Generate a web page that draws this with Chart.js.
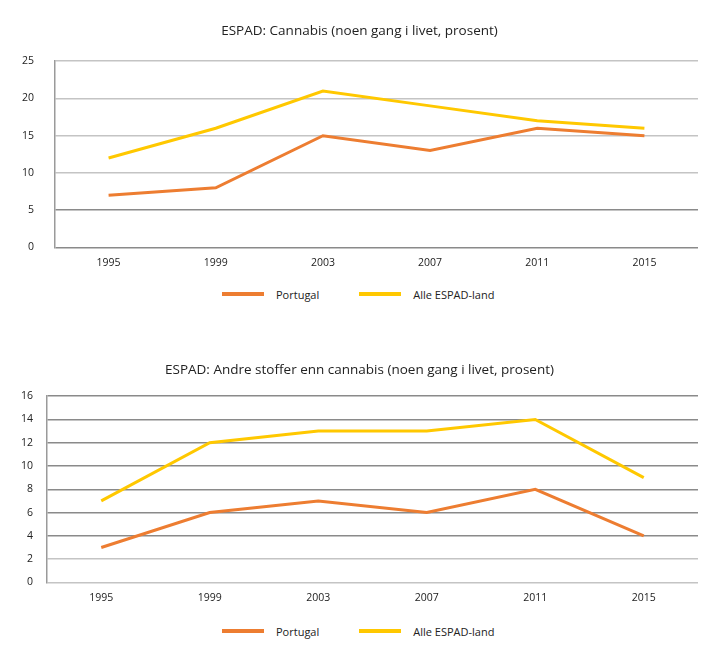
<!DOCTYPE html>
<html>
<head>
<meta charset="utf-8">
<script src="https://cdn.jsdelivr.net/npm/chart.js@4"></script>
<style>
  body { margin: 0; background: #fff; font-family: "Open Sans", sans-serif; }
  .box { position: absolute; left: 0; width: 719px; }
  .legend { position: absolute; left: 222px; display: flex; align-items: center; font-size: 11px; color: #222; height: 16px; }
  .legend .item { display: flex; align-items: center; margin-right: 40px; }
  .legend .swatch { width: 42px; height: 4px; margin-right: 12px; }
</style>
</head>
<body>
<div class="box" style="top:0px;height:284px"><canvas id="cannabisChart"></canvas></div>
<div class="legend" id="cannabisLegend" style="top:286px"></div>
<div class="box" style="top:340px;height:276px"><canvas id="otherChart"></canvas></div>
<div class="legend" id="otherLegend" style="top:623px"></div>
<script>
var years = ['1995', '1999', '2003', '2007', '2011', '2015'];
var seriesNames = ['Portugal', 'Alle ESPAD-land'];
var seriesColors = ['#ED7D31', '#FFC800'];

var cannabisPortugal = [7, 8, 15, 13, 16, 15];
var cannabisAll = [12, 16, 21, 19, 17, 16];
var cannabisTicks = [0, 5, 10, 15, 20, 25];

var otherPortugal = [3, 6, 7, 6, 8, 4];
var otherAll = [7, 12, 13, 13, 14, 9];
var otherTicks = [0, 2, 4, 6, 8, 10, 12, 14, 16];

Chart.defaults.font.family = '"Open Sans", sans-serif';
Chart.defaults.color = '#222';

// left/right padding kept equal so the title centres on the page
function makeChart(canvas, title, portugal, all, ticks, opts) {
    return new Chart(canvas, {
        type: 'line',
        data: {
            labels: years,
            datasets: [portugal, all].map(function(values, i) {
                return {
                    label: seriesNames[i],
                    data: values,
                    borderColor: seriesColors[i],
                    backgroundColor: seriesColors[i],
                    borderWidth: 3,
                    pointRadius: 0,
                    tension: 0
                };
            })
        },
        options: {
            responsive: true,
            maintainAspectRatio: false,
            animation: false,
            layout: { padding: { left: 21, right: 21, top: 0, bottom: opts.bottom } },
            plugins: {
                title: {
                    display: true,
                    text: title,
                    font: { size: 13.5, weight: 'normal' },
                    padding: { top: opts.titleTop, bottom: opts.titleBottom }
                },
                legend: { display: false },
                tooltip: { enabled: false }
            },
            scales: {
                x: {
                    offset: true,
                    grid: { display: false, drawTicks: false },
                    border: { display: false },
                    ticks: { padding: 9, font: { size: 10.5 } }
                },
                y: {
                    min: ticks[0],
                    max: ticks[ticks.length - 1],
                    afterBuildTicks: function(scale) {
                        scale.ticks = ticks.map(function(v) { return { value: v }; });
                    },
                    afterFit: function(scale) { scale.width = opts.axisWidth; },
                    grid: {
                        drawTicks: false,
                        lineWidth: 1.5,
                        color: function(ctx) {
                            var v = ctx.tick ? ctx.tick.value : 0;
                            return opts.isDark(v) ? '#8a8a8a' : '#c4c4c4';
                        }
                    },
                    border: { display: true, color: '#9a9a9a', width: 1.5 },
                    ticks: { padding: opts.tickPad, font: { size: 10.5 } }
                }
            }
        }
    });
}

function buildLegend(el) {
    seriesNames.forEach(function(name, i) {
        var item = document.createElement('div');
        item.className = 'item';
        var swatch = document.createElement('span');
        swatch.className = 'swatch';
        swatch.style.background = seriesColors[i];
        var label = document.createElement('span');
        label.textContent = name;
        item.appendChild(swatch);
        item.appendChild(label);
        el.appendChild(item);
    });
}

makeChart(document.getElementById('cannabisChart'),
    'ESPAD: Cannabis (noen gang i livet, prosent)',
    cannabisPortugal, cannabisAll, cannabisTicks,
    { axisWidth: 34, tickPad: 21, titleTop: 23, titleBottom: 22, bottom: 6,
      isDark: function(v) { return v <= 5; } });

makeChart(document.getElementById('otherChart'),
    'ESPAD: Andre stoffer enn cannabis (noen gang i livet, prosent)',
    otherPortugal, otherAll, otherTicks,
    { axisWidth: 26, tickPad: 14, titleTop: 22, titleBottom: 18, bottom: 3,
      isDark: function(v) { return v >= 4; } });

buildLegend(document.getElementById('cannabisLegend'));
buildLegend(document.getElementById('otherLegend'));
</script>
</body>
</html>
